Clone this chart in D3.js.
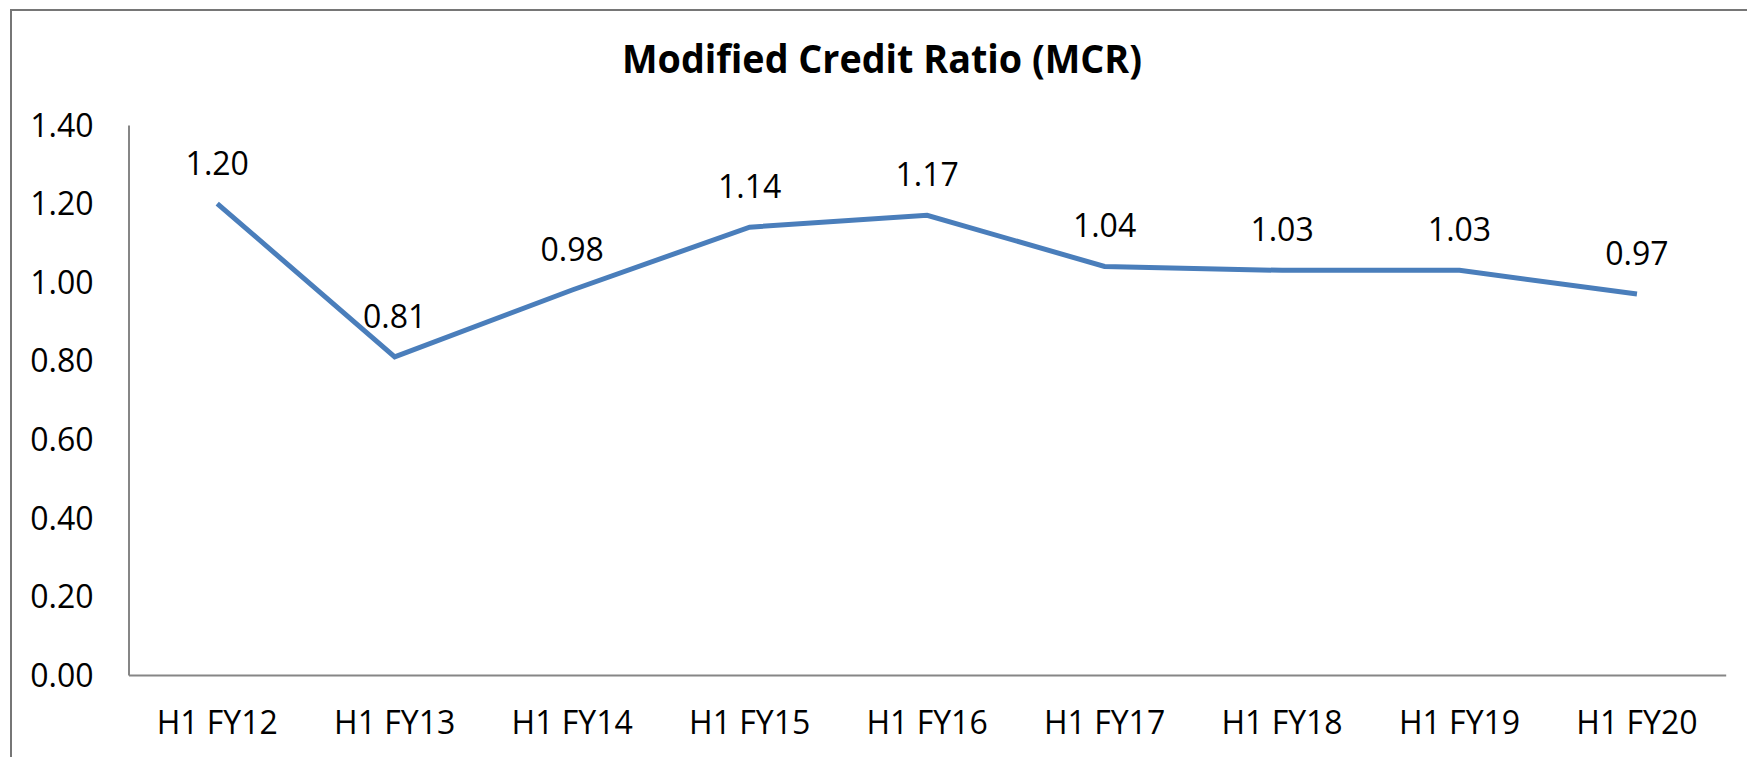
<!doctype html>
<html lang="en">
  <head>
    <meta charset="utf-8">
    <title>Modified Credit Ratio (MCR)</title>
    <script src="https://d3js.org/d3.v7.min.js"></script>
    <style>
      body { margin: 0; background: #fff; }
      text { font-family: "Open Sans", "Noto Sans", sans-serif; fill: #000; }
    </style>
  </head>

  <body>
    <svg width="1747" height="757"></svg>

    <script>
      var categories = ['H1 FY12', 'H1 FY13', 'H1 FY14', 'H1 FY15', 'H1 FY16', 'H1 FY17', 'H1 FY18', 'H1 FY19', 'H1 FY20'];
      var mcrValues = [1.20, 0.81, 0.98, 1.14, 1.17, 1.04, 1.03, 1.03, 0.97];
      var yTicks = [0, 0.2, 0.4, 0.6, 0.8, 1.0, 1.2, 1.4];

      var svg = d3.select('svg');
      var plotLeft = 128.5, plotRight = 1725.7, plotTop = 125, plotBottom = 675;

      // chart frame, cropped on the right and bottom like the source
      svg.append('rect')
        .attr('x', 11).attr('y', 10)
        .attr('width', 1800).attr('height', 800)
        .attr('fill', 'none')
        .attr('stroke', '#767676')
        .attr('stroke-width', 2);

      svg.append('text')
        .attr('x', 882).attr('y', 73)
        .attr('text-anchor', 'middle')
        .attr('textLength', 520)
        .attr('lengthAdjust', 'spacingAndGlyphs')
        .style('font-size', '39px')
        .style('font-weight', 'bold')
        .text('Modified Credit Ratio (MCR)');

      var x = d3.scaleBand().domain(categories).range([plotLeft, plotRight]);
      var y = d3.scaleLinear().domain([0, 1.4]).range([plotBottom, plotTop]);

      var yAxis = svg.append('g')
        .attr('transform', 'translate(' + plotLeft + ',0)')
        .call(d3.axisLeft(y).tickValues(yTicks).tickFormat(d3.format('.2f')).tickSize(0).tickPadding(35));
      yAxis.select('.domain').attr('stroke', '#868686').attr('stroke-width', 2);
      yAxis.selectAll('text').style('font-size', '32px').attr('font-family', null).attr('dy', '0.35em');

      var xAxis = svg.append('g')
        .attr('transform', 'translate(0,' + plotBottom + ')')
        .call(d3.axisBottom(x).tickSize(0).tickPadding(36));
      xAxis.select('.domain').attr('stroke', '#868686').attr('stroke-width', 2);
      xAxis.selectAll('text').style('font-size', '32px').attr('font-family', null);

      var cx = function(d, i){ return x(categories[i]) + x.bandwidth() / 2; };

      var line = d3.line()
        .x(cx)
        .y(function(d){ return y(d); });

      svg.append('path')
        .datum(mcrValues)
        .attr('d', line)
        .attr('fill', 'none')
        .attr('stroke', '#4a7ebb')
        .attr('stroke-width', 5)
        .attr('stroke-linejoin', 'miter');

      svg.selectAll('.label')
        .data(mcrValues)
        .enter().append('text')
        .attr('class', 'label')
        .attr('x', cx)
        .attr('y', function(d){ return y(d) - 29; })
        .attr('text-anchor', 'middle')
        .style('font-size', '32px')
        .text(function(d){ return d.toFixed(2); });
    </script>
  </body>
</html>
